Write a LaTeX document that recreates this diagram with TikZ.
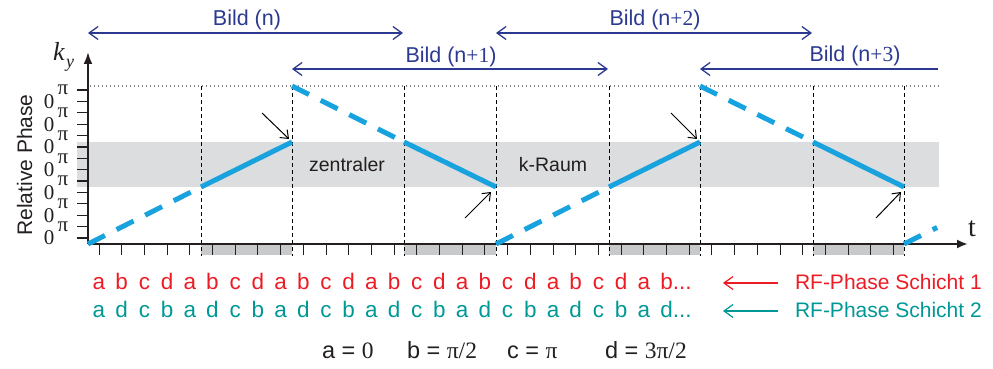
\documentclass[tikz,border=0pt]{standalone}
\usepackage{fontspec}
\setmainfont{Liberation Sans}
\newfontfamily\serf{Liberation Serif}
\usetikzlibrary{arrows.meta}
\definecolor{kblue}{RGB}{25,163,222}
\definecolor{navy}{RGB}{43,57,144}
\definecolor{rfred}{RGB}{237,28,36}
\definecolor{rfteal}{RGB}{0,152,150}
\definecolor{band}{RGB}{220,221,222}
\definecolor{boxg}{RGB}{200,201,202}
\definecolor{txt}{RGB}{35,31,32}
\begin{document}
\begin{tikzpicture}[x=1pt,y=-1pt,
  every node/.style={inner sep=0pt, outer sep=0pt},
  bl/.style={line width=5pt, kblue},
  bldash/.style={dash pattern=on 19pt off 13pt},
  bildarr/.style={navy, line width=1.3pt},
  bildboth/.style={{Straight Barb[length=9pt,width=13pt]}-{Straight Barb[length=9pt,width=13pt]}},
  bildleft/.style={{Straight Barb[length=9pt,width=13pt]}-},
  ptr/.style={-{Straight Barb[length=7pt,width=11pt]}, line width=1pt, black},
  vdash/.style={line width=0.9pt, dash pattern=on 4pt off 3pt, black},
  lbl/.style={font=\fontsize{21}{25}\selectfont},
  bildtxt/.style={font=\fontsize{21.5}{25}\selectfont, text=navy, anchor=base},
  letr/.style={font=\fontsize{22.5}{26}\selectfont, anchor=base},
  ylab/.style={font=\serf\fontsize{21}{25}\selectfont, text=txt},
  legd/.style={font=\fontsize{23.5}{27}\selectfont, text=txt, anchor=base west},
  rfarr/.style={-{Straight Barb[length=9pt,width=13pt]}, line width=1.2pt}
]
\useasboundingbox (0,0) rectangle (993,369);

% gray band and boxes
\fill[band] (77,142) rectangle (939,187);
\foreach \a/\b in {201/292,404/496,609/700,813/904}
  \fill[boxg] (\a,244) rectangle (\b,255);

% dotted top line
\draw[gray, line width=1.2pt, dash pattern=on 1.2pt off 2.8pt] (90,86) -- (940,86);

% vertical dashed lines
\foreach \x in {201,292,404,496,609,700,813,904}
  \draw[vdash] (\x,86) -- (\x,256);

% x ticks
\foreach \k in {0,...,35}
  \draw[line width=1pt, txt] ({99+22.7*\k},244) -- ++(0,11);

% y ticks and labels
\foreach \i in {0,...,13}{
  \draw[line width=1.2pt, txt] (77,{90+11.385*\i}) -- (88,{90+11.385*\i});
  \ifodd\i
    \node[ylab] (yl\i) at (49,{90+11.385*\i}) {0};
  \else
    \node[ylab] (yl\i) at (63,{90+11.385*\i}) {π};
  \fi
}

% axes
\draw[line width=2.2pt, txt, -{Latex[length=12pt,width=9pt]}] (88,244) -- (88,52);
\draw[line width=2.2pt, txt, -{Latex[length=11pt,width=9pt]}] (88,244) -- (968,244);
\node[font=\serf\fontsize{28}{30}\selectfont, text=txt] (tlab) at (972,229) {t};
\node[font=\serf\itshape\fontsize{26}{28}\selectfont, text=txt, anchor=base] (klab) at (59,61) {k};
\node[font=\serf\itshape\fontsize{18}{20}\selectfont, text=txt, anchor=base] (ylab) at (70,67) {y};
\node[lbl, rotate=90, anchor=base, text=txt] (rphase) at (32,165) {Relative Phase};

% blue line
\coordinate (p0) at (88,244);  \coordinate (p1) at (201,187); \coordinate (p2) at (292,142);
\coordinate (q0) at (292,86);  \coordinate (q1) at (404,142); \coordinate (q2) at (496,187);
\coordinate (r0) at (496,244); \coordinate (r1) at (609,187); \coordinate (r2) at (700,142);
\coordinate (s0) at (700,86);  \coordinate (s1) at (813,142); \coordinate (s2) at (904,187);
\coordinate (u0) at (904,244); \coordinate (u1) at (938,227);
\draw[bl, bldash] (p0) -- (p1);
\draw[bl] (p1) -- (p2);
\draw[bl, bldash] (q0) -- (q1);
\draw[bl] (q1) -- (q2);
\draw[bl, bldash] (r0) -- (r1);
\draw[bl] (r1) -- (r2);
\draw[bl, bldash] (s0) -- (s1);
\draw[bl] (s1) -- (s2);
\draw[bl, dash pattern=on 19pt off 13pt on 5pt off 20pt] (u0) -- (u1);

% labels in band
\node[font=\fontsize{19.5}{22}\selectfont, text=txt] (zen) at (347,165) {zentraler};
\node[font=\fontsize{19.5}{22}\selectfont, text=txt] (kraum) at (553,165) {k-Raum};

% small pointer arrows
\coordinate (a1s) at (262,113); \coordinate (a1e) at (289,139);
\coordinate (a2s) at (465,218); \coordinate (a2e) at (491,192);
\coordinate (a3s) at (671,113); \coordinate (a3e) at (697,139);
\coordinate (a4s) at (876,218); \coordinate (a4e) at (901,192);
\draw[ptr] (a1s) -- (a1e);
\draw[ptr] (a2s) -- (a2e);
\draw[ptr] (a3s) -- (a3e);
\draw[ptr] (a4s) -- (a4e);

% Bild arrows
\coordinate (b0l) at (88,33);  \coordinate (b0r) at (403,33);
\coordinate (b1l) at (292,69); \coordinate (b1r) at (608,69);
\coordinate (b2l) at (496,33); \coordinate (b2r) at (812,33);
\coordinate (b3l) at (700,69); \coordinate (b3r) at (938,69);
\draw[bildarr, bildboth] (b0l) -- (b0r);
\draw[bildarr, bildboth] (b1l) -- (b1r);
\draw[bildarr, bildboth] (b2l) -- (b2r);
\draw[bildarr, bildleft] (b3l) -- (b3r);
\node[bildtxt] (bn0) at (247,26) {Bild (n)};
\node[bildtxt] (bn1) at (451,63) {Bild (n{\serf +1})};
\node[bildtxt] (bn2) at (655,26) {Bild (n{\serf +2})};
\node[bildtxt] (bn3) at (855,62) {Bild (n{\serf +3})};

% letter rows
\foreach \L [count=\k from 0] in {a,b,c,d,a,b,c,d,a,b,c,d,a,b,c,d,a,b,c,d,a,b,c,d,a,b}
  \node[letr, text=rfred] (red\k) at ({99+22.7*\k},289) {\L};
\node[letr, text=rfred, anchor=base west] (reddots) at (red25.base east) {...};
\foreach \L [count=\k from 0] in {a,d,c,b,a,d,c,b,a,d,c,b,a,d,c,b,a,d,c,b,a,d,c,b,a,d}
  \node[letr, text=rfteal] (tea\k) at ({99+22.7*\k},317) {\L};
\node[letr, text=rfteal, anchor=base west] (teadots) at (tea25.base east) {...};

% RF arrows and labels
\node[lbl, text=rfred, anchor=base west] (rf1) at (795,289) {RF-Phase Schicht 1};
\node[lbl, text=rfteal, anchor=base west] (rf2) at (795,317) {RF-Phase Schicht 2};
\coordinate (rf1s) at (778,283); \coordinate (rf1e) at (723,283);
\coordinate (rf2s) at (778,311); \coordinate (rf2e) at (723,311);
\draw[rfarr, rfred] (rf1s) -- (rf1e);
\draw[rfarr, rfteal] (rf2s) -- (rf2e);

% legend
\node[legd] (lga) at (322,358) {a = {\serf 0}};
\node[legd] (lgb) at (407,358) {b = {\serf π/2}};
\node[legd] (lgc) at (507,358) {c = {\serf π}};
\node[legd] (lgd) at (605,358) {d = {\serf 3π/2}};
\end{tikzpicture}
\end{document}
